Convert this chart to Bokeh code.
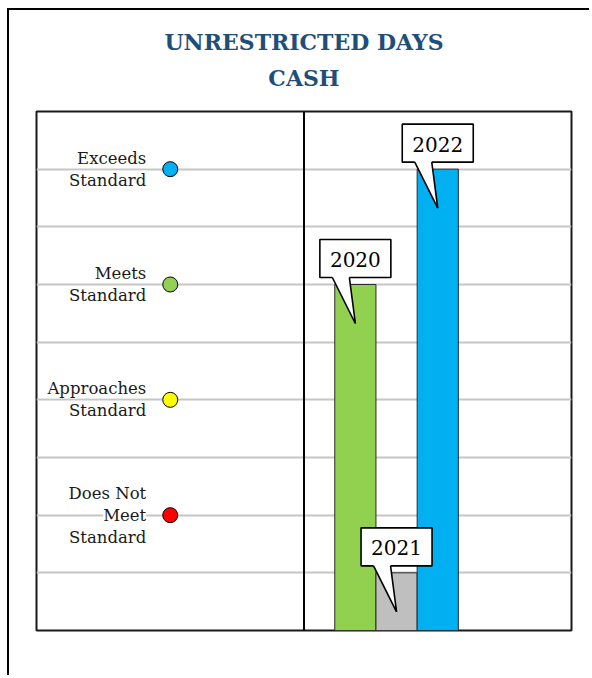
from bokeh.plotting import figure
from bokeh.models import Range1d, Grid, FixedTicker, Span, ColumnDataSource, Title
from bokeh.core.properties import value
from bokeh.embed import file_html
from bokeh.resources import INLINE

# ---------------- data ----------------
title_lines = ["UNRESTRICTED DAYS", "CASH"]
levels = ["Exceeds\nStandard", "Meets\nStandard", "Approaches\nStandard", "Does Not\nMeet\nStandard"]
level_values = [8, 6, 4, 2]
level_colors = ["#00B0F0", "#92D050", "#FFFF00", "#FF0000"]
years = ["2020", "2021", "2022"]
year_values = [6, 1, 8]
year_colors = ["#92D050", "#BFBFBF", "#00B0F0"]
grid_ticks = [1, 2, 3, 4, 5, 6, 7, 8]
y_min, y_max = 0, 9
x_min, x_max = 0, 2

# ---------------- layout ----------------
W, H = 582, 667
MB_L, MB_R, MB_T, MB_B = 27, 20, 101, 47
frame_w = W - MB_L - MB_R
frame_h = H - MB_T - MB_B
ppx = frame_w / (x_max - x_min)
ppy = frame_h / (y_max - y_min)

SERIF = "DejaVu Serif"

p = figure(width=W, height=H, x_range=Range1d(x_min, x_max), y_range=Range1d(y_min, y_max),
           x_axis_type=None, y_axis_type=None, output_backend="svg", toolbar_location=None,
           title=None,
           min_border_left=MB_L, min_border_right=MB_R, min_border_top=MB_T, min_border_bottom=MB_B,
           outline_line_color="#1a1a1a", outline_line_width=2,
           background_fill_color="white", border_fill_color="white")
p.styles = {"border-top": "2px solid black", "border-left": "2px solid black",
            "margin-left": "7px", "margin-top": "8px"}

# title lines stacked above (first added is nearest the frame)
for line, so in zip(reversed(title_lines), [42, -26]):
    p.add_layout(Title(text=line, align="center", text_font=SERIF, text_font_size="22px",
                       text_font_style="bold", text_color="#1F4E79", standoff=so), "above")

p.add_layout(Grid(dimension=1, ticker=FixedTicker(ticks=grid_ticks),
                  grid_line_color="#c6c6c6", grid_line_width=2))
p.add_layout(Span(location=(x_min + x_max) / 2, dimension="height", line_color="black", line_width=2))

# ---------------- left panel: level labels and dots ----------------
panel_mid = x_min + (x_max - x_min) / 4
LINE_PX = 22
lx, ly, lt, lo = [], [], [], []
for lab, v in zip(levels, level_values):
    lines = lab.split("\n")
    n = len(lines)
    for j, line in enumerate(lines):
        lx.append(panel_mid)
        ly.append(v)
        lt.append(line)
        lo.append((j - (n - 1) / 2) * LINE_PX)
p.text(x=lx, y=ly, text=lt, y_offset=lo, x_offset=-24, text_align="right", text_baseline="middle",
       text_font=value(SERIF), text_font_size="16.5px", text_color="#1a1a1a",
       background_fill_color="white")
p.scatter(x=[panel_mid] * len(level_values), y=level_values, size=15, marker="circle",
          fill_color=level_colors, line_color="black", line_width=1)

# ---------------- right panel: bars ----------------
bar_w = 0.154
right_mid = x_min + 3 * (x_max - x_min) / 4
n_bars = len(years)
bar_x = [right_mid + (i - (n_bars - 1)) * bar_w for i in range(n_bars)]
src = ColumnDataSource(dict(x=bar_x, top=year_values, color=year_colors, year=years))
p.vbar(x="x", top="top", bottom=y_min, width=bar_w, fill_color="color", line_color="#2b2b2b",
       line_width=1, source=src)

# ---------------- callouts ----------------
BOX_W, BOX_H, BOX_GAP = 71, 38, 7
TIP_DOWN = 39
BASE_L, BASE_R = -23, -6
box_y = [v + (BOX_GAP + BOX_H / 2) / ppy for v in year_values]
p.rect(x=bar_x, y=box_y, width=BOX_W, height=BOX_H, width_units="screen", height_units="screen",
       fill_color="white", line_color="black", line_width=1.6)
px_list, py_list, lxs, lys = [], [], [], []
for x, v in zip(bar_x, year_values):
    base = v + BOX_GAP / ppy
    inner = v + (BOX_GAP + 2) / ppy
    tip = v - TIP_DOWN / ppy
    xl = x + BASE_L / ppx
    xr = x + BASE_R / ppx
    px_list.append([xl, xr, xr, x, xl])
    py_list.append([inner, inner, base, tip, base])
    lxs.append([xl, x, xr])
    lys.append([base, tip, base])
p.patches(xs=px_list, ys=py_list, fill_color="white", line_color=None)
p.multi_line(xs=lxs, ys=lys, line_color="black", line_width=1.6)
p.text(x=bar_x, y=box_y, text=years, y_offset=1, text_align="center", text_baseline="middle",
       text_font=value(SERIF), text_font_size="20px", text_color="black")

open("out.html", "w").write(file_html(p, INLINE))
